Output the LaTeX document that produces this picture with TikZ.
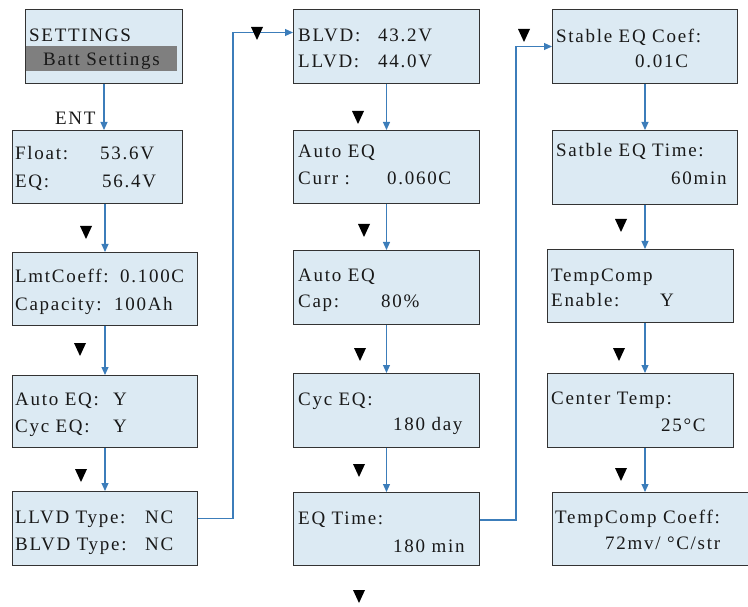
\documentclass[tikz,border=0pt]{standalone}
\usepackage{fontspec}
\setmainfont{Liberation Serif}[LetterSpace=9]
\usetikzlibrary{arrows.meta}
\definecolor{boxblue}{HTML}{DCEAF3}
\definecolor{arrblue}{HTML}{3C7DBA}
\definecolor{hlgray}{HTML}{7F7F7F}
\tikzset{
  box/.style={draw=black!80, fill=boxblue, line width=1pt, inner sep=0pt, anchor=north west},
  txt/.style={anchor=base west, inner sep=0pt, text=black!90, font=\fontsize{19}{21}\selectfont},
  arr/.style={draw=arrblue, line width=1.2pt, -{Triangle[width=7pt,length=8pt]}},
}
\newcommand\dtri[2]{\fill (#1-6,#2-7) -- (#1+6,#2-7) -- (#1,#2+6) -- cycle;}
\begin{document}
\begin{tikzpicture}[x=1pt, y=-1pt]
\useasboundingbox (0,0) rectangle (748,607);

% first column
\node[box, minimum width=157, minimum height=74] (set) at (25,9) {};
\node[anchor=north west, fill=hlgray, inner sep=0pt, minimum width=151, minimum height=25] (hl) at (26,46) {};
\node[box, minimum width=170, minimum height=73] (flt) at (12,130) {};
\node[box, minimum width=185, minimum height=73] (lmt) at (12,252) {};
\node[box, minimum width=185, minimum height=72] (aeq) at (12,375) {};
\node[box, minimum width=185, minimum height=74] (llvd) at (12,491) {};

\node[txt] (set1) at (29,42) {SETTINGS};
\node[txt] (set2) at (43,66) {Batt Settings};
\node[txt] (ent) at (55,125) {ENT};
\node[txt] (flt1) at (15,160) {Float:};
\node[txt] (flt2) at (100,160) {53.6V};
\node[txt] (flt3) at (15,188) {EQ:};
\node[txt] (flt4) at (102,188) {56.4V};
\node[txt] (lmt1) at (15,283) {LmtCoeff:};
\node[txt] (lmt2) at (120,283) {0.100C};
\node[txt] (lmt3) at (15,310) {Capacity:};
\node[txt] (lmt4) at (114,310) {100Ah};
\node[txt] (aeq1) at (15,405) {Auto EQ:};
\node[txt] (aeq2) at (113,405) {Y};
\node[txt] (aeq3) at (15,432) {Cyc EQ:};
\node[txt] (aeq4) at (113,432) {Y};
\node[txt] (llvd1) at (15,523) {LLVD Type:};
\node[txt] (llvd2) at (145,523) {NC};
\node[txt] (llvd3) at (15,550) {BLVD Type:};
\node[txt] (llvd4) at (145,550) {NC};

% second column
\node[box, minimum width=186, minimum height=74] (blvd) at (293,9) {};
\node[box, minimum width=186, minimum height=73] (curr) at (293,130) {};
\node[box, minimum width=186, minimum height=74] (cap) at (293,250) {};
\node[box, minimum width=186, minimum height=74] (cyc) at (293,373) {};
\node[box, minimum width=186, minimum height=73] (eqt) at (293,492) {};

\node[txt] (blvd1) at (298,42) {BLVD:};
\node[txt] (blvd2) at (378,42) {43.2V};
\node[txt] (blvd3) at (298,68) {LLVD:};
\node[txt] (blvd4) at (378,68) {44.0V};
\node[txt] (curr1) at (298,158) {Auto EQ};
\node[txt] (curr2) at (298,185) {Curr :};
\node[txt] (curr3) at (387,185) {0.060C};
\node[txt] (cap1) at (298,282) {Auto EQ};
\node[txt] (cap2) at (298,307) {Cap:};
\node[txt] (cap3) at (381,307) {80\%};
\node[txt] (cyc1) at (298,405) {Cyc EQ:};
\node[txt] (cyc2) at (393,430) {180 day};
\node[txt] (eqt1) at (298,524) {EQ Time:};
\node[txt] (eqt2) at (393,552) {180 min};

% third column
\node[box, minimum width=185, minimum height=74] (sec) at (552,9) {};
\node[box, minimum width=185, minimum height=74] (stt) at (552,130) {};
\node[box, minimum width=186, minimum height=73] (tc) at (547,249) {};
\node[box, minimum width=186, minimum height=74] (ct) at (547,373) {};
\node[box, minimum width=198, minimum height=73] (tcc) at (552,492) {};

\node[txt] (sec1) at (556,43) {Stable EQ Coef:};
\node[txt] (sec2) at (635,68) {0.01C};
\node[txt] (stt1) at (556,157) {Satble EQ Time:};
\node[txt] (stt2) at (671,185) {60min};
\node[txt] (tc1) at (551,282) {TempComp};
\node[txt] (tc2) at (551,306) {Enable:};
\node[txt] (tc3) at (660,306) {Y};
\node[txt] (ct1) at (551,404) {Center Temp:};
\node[txt] (ct2) at (661,431) {25°C};
\node[txt] (tcc1) at (555,523) {TempComp Coeff:};
\node[txt] (tcc2) at (605,549) {72mv/ °C/str};

% connectors
\draw[arr] (set.south) -- (set.south |- flt.north);
\draw[arr] (lmt.north |- flt.south) -- (lmt.north);
\draw[arr] (lmt.south) -- (aeq.north);
\draw[arr] (aeq.south) -- (llvd.north);
\draw[arr] ([yshift=10pt]llvd.east) -- ++(35,0) |- ([yshift=14pt]blvd.west);
\draw[arr] (blvd.south) -- (curr.north);
\draw[arr] (curr.south) -- (cap.north);
\draw[arr] (cap.south) -- (cyc.north);
\draw[arr] (cyc.south) -- (eqt.north);
\draw[arr] ([yshift=9pt]eqt.east) -- ++(36,0) |- (sec.west);
\draw[arr] (sec.south) -- (stt.north);
\draw[arr] (stt.south) -- (stt.south |- tc.north);
\draw[arr] (tc.south -| stt.south) -- (ct.north -| stt.south);
\draw[arr] (ct.south -| stt.south) -- (tcc.north -| stt.south);

% key marks
\dtri{86}{233}
\dtri{80}{350}
\dtri{81}{476}
\dtri{257}{34}
\dtri{358}{118}
\dtri{364}{231}
\dtri{360}{355}
\dtri{359}{471}
\dtri{359}{597}
\dtri{524}{36}
\dtri{621}{226}
\dtri{619}{355}
\dtri{621}{475}
\end{tikzpicture}
\end{document}
